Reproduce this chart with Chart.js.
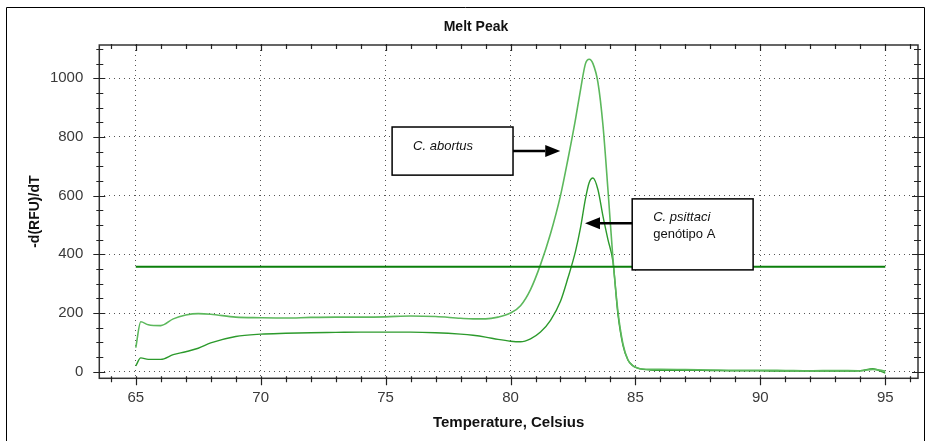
<!DOCTYPE html>
<html>
<head>
<meta charset="utf-8">
<script src="https://cdn.jsdelivr.net/npm/chart.js@4/dist/chart.umd.min.js"></script>
<style>
  html, body { margin: 0; padding: 0; background: #fff; }
  #wrap { width: 930px; height: 441px; }
</style>
</head>
<body>
<div id="wrap"><canvas id="meltChart" width="930" height="441"></canvas></div>
<script>
// Melt peak data (-d(RFU)/dT against temperature)
const temperature = [
  65.0, 65.2, 65.5, 66.0, 66.5, 67.0, 67.5, 68.0, 69.0, 70.0,
  71.0, 72.0, 73.0, 74.0, 75.0, 76.0, 77.0, 78.0, 78.5, 79.0,
  79.5, 80.0, 80.4, 80.8, 81.2, 81.6, 82.0, 82.3, 82.6, 82.8,
  83.0, 83.15, 83.3, 83.5, 83.7, 83.9, 84.1, 84.3, 84.5, 84.7,
  84.9, 85.1, 85.3, 85.6, 86.0, 87.0, 88.0, 89.0, 90.0, 91.0,
  92.0, 93.0, 94.0, 94.5, 95.0
];
const abortusRFU = [
  82, 170, 160, 157, 180, 193, 198, 196, 186, 184,
  183, 185, 186, 186, 187, 190, 188, 182, 180, 180,
  186, 200, 225, 280, 365, 470, 600, 725, 860, 960,
  1050, 1065, 1050, 985, 840, 620, 385, 205, 95, 40,
  20, 12, 9, 8, 8, 7, 6, 5, 5, 4,
  3, 4, 3, 8, 2
];
const psittaciRFU = [
  20, 47, 42, 42, 58, 68, 80, 98, 120, 128,
  131, 133, 134, 135, 135, 135, 133, 128, 124, 118,
  110, 104, 102, 112, 135, 175, 240, 320, 410, 490,
  590, 645, 660, 620, 530, 450, 375, 195, 90, 40,
  20, 12, 8, 6, 5, 5, 4, 3, 3, 2,
  2, 2, 3, 10, -5
];
const thresholdTemp = [65, 95];
const thresholdRFU = [358, 358];

const xTicks = [65, 70, 75, 80, 85, 90, 95];
const yTicks = [0, 200, 400, 600, 800, 1000];

// callout boxes, in data units
const callouts = [
  { x0: 75.26, x1: 80.1, y0: 834, y1: 670, tipX: 81.99, tipY: 752,
    lines: [{ text: 'C. abortus', italic: true }] },
  { x0: 84.87, x1: 89.71, y0: 589, y1: 347, tipX: 82.98, tipY: 506,
    lines: [{ text: 'C. psittaci', italic: true }, { text: 'genótipo A', italic: false }] }
];

const FONT = "'Liberation Sans', Arial, sans-serif";

const decorPlugin = {
  id: 'decor',
  afterDraw(chart) {
    const ctx = chart.ctx;
    const a = chart.chartArea;
    const xs = chart.scales.x, ys = chart.scales.y;
    ctx.save();

    // outer frame
    ctx.strokeStyle = '#000';
    ctx.lineWidth = 1;
    ctx.beginPath();
    ctx.moveTo(6.5, 450);
    ctx.lineTo(6.5, 7.5);
    ctx.lineTo(924.5, 7.5);
    ctx.lineTo(924.5, 450);
    ctx.stroke();

    // plot frame
    ctx.strokeStyle = '#333';
    ctx.lineWidth = 1.5;
    ctx.strokeRect(a.left, a.top, a.right - a.left, a.bottom - a.top);

    // ticks on all four sides
    ctx.lineWidth = 1.2;
    ctx.strokeStyle = '#222';
    ctx.beginPath();
    for (let t = Math.ceil(xs.min); t <= xs.max; t++) {
      const px = Math.round(xs.getPixelForValue(t)) + 0.5;
      const major = t % 5 === 0;
      ctx.moveTo(px, a.bottom - 2);
      ctx.lineTo(px, a.bottom + (major ? 7 : 4));
      ctx.moveTo(px, a.top - 1);
      ctx.lineTo(px, a.top + (major ? 6 : 4));
    }
    for (let v = Math.ceil(ys.min / 50) * 50; v <= ys.max; v += 50) {
      const py = Math.round(ys.getPixelForValue(v)) + 0.5;
      const major = v % 200 === 0;
      ctx.moveTo(a.left - (major ? 6 : 3), py);
      ctx.lineTo(a.left + (major ? 6 : 4), py);
      ctx.moveTo(a.right - (major ? 6 : 4), py);
      ctx.lineTo(a.right + (major ? 6 : 3), py);
    }
    ctx.stroke();

    // titles
    ctx.fillStyle = '#111';
    ctx.textAlign = 'center';
    ctx.textBaseline = 'middle';
    ctx.font = 'bold 14px ' + FONT;
    ctx.fillText('Melt Peak', 476, 27);
    ctx.font = 'bold 15px ' + FONT;
    ctx.fillText('Temperature, Celsius', (a.left + a.right) / 2, 423);
    ctx.save();
    ctx.translate(35, (a.top + a.bottom) / 2);
    ctx.rotate(-Math.PI / 2);
    ctx.font = 'bold 14px ' + FONT;
    ctx.fillText('-d(RFU)/dT', 0, 0);
    ctx.restore();

    // callouts
    callouts.forEach(c => {
      const l = xs.getPixelForValue(c.x0), r = xs.getPixelForValue(c.x1);
      const t = ys.getPixelForValue(c.y0), b = ys.getPixelForValue(c.y1);
      ctx.fillStyle = '#fff';
      ctx.fillRect(l, t, r - l, b - t);
      ctx.strokeStyle = '#000';
      ctx.lineWidth = 1.5;
      ctx.strokeRect(l, t, r - l, b - t);

      ctx.fillStyle = '#111';
      ctx.textAlign = 'left';
      ctx.textBaseline = 'middle';
      c.lines.forEach((ln, i) => {
        ctx.font = (ln.italic ? 'italic ' : '') + '13px ' + FONT;
        ctx.fillText(ln.text, l + 21, t + 19 + i * 17);
      });

      const tx = xs.getPixelForValue(c.tipX), ty = ys.getPixelForValue(c.tipY);
      const sx = tx > r ? r : l;
      const dir = tx > sx ? 1 : -1;
      const headLen = 15, headHalf = 6;
      ctx.lineWidth = 2.5;
      ctx.beginPath();
      ctx.moveTo(sx, ty);
      ctx.lineTo(tx - dir * headLen, ty);
      ctx.stroke();
      ctx.fillStyle = '#000';
      ctx.beginPath();
      ctx.moveTo(tx, ty);
      ctx.lineTo(tx - dir * headLen, ty - headHalf);
      ctx.lineTo(tx - dir * headLen, ty + headHalf);
      ctx.closePath();
      ctx.fill();
    });

    ctx.restore();
  }
};

const toPoints = (xsArr, ysArr) => xsArr.map((x, i) => ({ x: x, y: ysArr[i] }));

const ctx = document.getElementById('meltChart').getContext('2d');
const meltChart = new Chart(ctx, {
  type: 'line',
  data: {
    datasets: [
      {
        label: 'Threshold',
        data: toPoints(thresholdTemp, thresholdRFU),
        borderColor: '#0b7f0b',
        borderWidth: 2,
        pointRadius: 0
      },
      {
        label: 'C. abortus',
        data: toPoints(temperature, abortusRFU),
        borderColor: '#5cb85c',
        borderWidth: 1.6,
        pointRadius: 0,
        cubicInterpolationMode: 'monotone'
      },
      {
        label: 'C. psittaci genótipo A',
        data: toPoints(temperature, psittaciRFU),
        borderColor: '#2c9a2c',
        borderWidth: 1.4,
        pointRadius: 0,
        cubicInterpolationMode: 'monotone'
      }
    ]
  },
  options: {
    responsive: false,
    animation: false,
    devicePixelRatio: 1,
    layout: { padding: { top: 45, right: 12, left: 0, bottom: 0 } },
    plugins: {
      legend: { display: false },
      title: { display: false },
      tooltip: { enabled: false }
    },
    scales: {
      x: {
        type: 'linear',
        min: 63.54,
        max: 96.31,
        afterBuildTicks: s => { s.ticks = xTicks.map(v => ({ value: v })); },
        afterFit: s => { s.height = 62.7; },
        grid: { color: '#555', lineWidth: 1, drawTicks: false },
        border: { display: false, dash: [1, 4] },
        ticks: {
          padding: 11,
          color: '#3a3a3a',
          font: { family: FONT, size: 15 },
          maxRotation: 0,
          callback: v => String(v)
        }
      },
      y: {
        type: 'linear',
        min: -22.5,
        max: 1113.5,
        afterBuildTicks: s => { s.ticks = yTicks.map(v => ({ value: v })); },
        afterFit: s => { s.width = 99.3; },
        grid: { color: '#555', lineWidth: 1, drawTicks: false },
        border: { display: false, dash: [1, 4] },
        ticks: {
          padding: 16,
          color: '#3a3a3a',
          font: { family: FONT, size: 15 },
          callback: v => String(v)
        }
      }
    }
  },
  plugins: [decorPlugin]
});
</script>
</body>
</html>
